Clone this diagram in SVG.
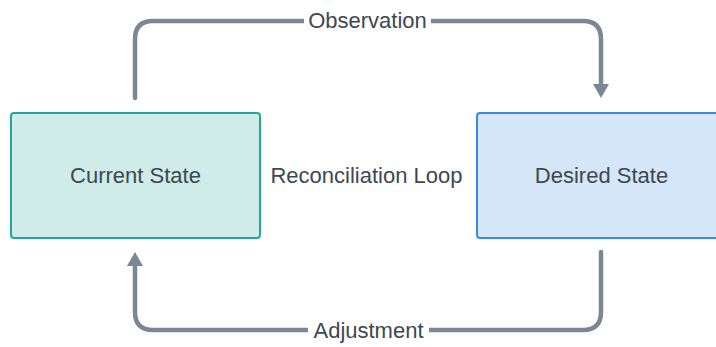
<svg xmlns="http://www.w3.org/2000/svg" width="716" height="347" viewBox="0 0 716 347">
  <style>
    .lbl { font-family: "Liberation Sans", Arial, sans-serif; font-size: 22px; fill: #3d4852; text-anchor: middle; dominant-baseline: central; }
    .conn { fill: none; stroke: #7b8794; stroke-width: 4.5; stroke-linecap: round; stroke-linejoin: round; }
    .bg { fill: #ffffff; }
  </style>
  <defs>
    <marker id="arrow" markerUnits="userSpaceOnUse" markerWidth="18" markerHeight="16" viewBox="0 0 18 16" refX="3" refY="8" orient="auto">
      <path d="M0,0 L14,8 L0,16 Z" fill="#7b8794"/>
    </marker>
  </defs>
  <rect width="716" height="347" fill="#ffffff"/>
  <g id="connectors">
    <g id="observation">
      <path class="conn" d="M135,98 V39 Q135,21 153,21 H583 Q601,21 601,39 V87" marker-end="url(#arrow)"/>
      <rect class="bg" x="304" y="8" width="127" height="26"/>
      <text class="lbl" x="367.5" y="20">Observation</text>
    </g>
    <g id="adjustment">
      <path class="conn" d="M601,252 V312 Q601,330 583,330 H153 Q135,330 135,312 V263" marker-end="url(#arrow)"/>
      <rect class="bg" x="308" y="317" width="121" height="26"/>
      <text class="lbl" x="368.5" y="330">Adjustment</text>
    </g>
  </g>
  <g id="current-state">
    <rect x="11" y="113" width="249" height="125" rx="3" fill="#cfece9" stroke="#26a69a" stroke-width="2"/>
    <text class="lbl" x="135.5" y="175.5">Current State</text>
  </g>
  <g id="reconciliation-loop">
    <text class="lbl" x="366.5" y="175.5">Reconciliation Loop</text>
  </g>
  <g id="desired-state">
    <rect x="477" y="113" width="249" height="125" rx="3" fill="#d4e6f7" stroke="#3a8be0" stroke-width="2"/>
    <text class="lbl" x="601.5" y="175.5">Desired State</text>
  </g>
</svg>
